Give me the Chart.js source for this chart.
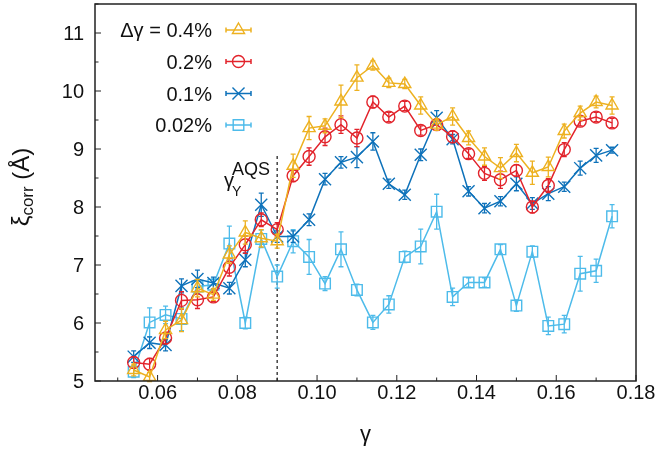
<!DOCTYPE html>
<html>
<head>
<meta charset="utf-8">
<script src="https://cdn.jsdelivr.net/npm/chart.js@4.4.1/dist/chart.umd.min.js"></script>
<style>
  html, body { margin: 0; padding: 0; background: #fff; }
  #wrap { width: 657px; height: 451px; }
</style>
</head>
<body>
<div id="wrap"><canvas id="chart" width="657" height="451"></canvas></div>
<script>
// γ 값 (x축)
const GAMMA = [0.054, 0.058, 0.062, 0.066, 0.070, 0.074, 0.078, 0.082, 0.086, 0.090,
  0.094, 0.098, 0.102, 0.106, 0.110, 0.114, 0.118, 0.122, 0.126, 0.130,
  0.134, 0.138, 0.142, 0.146, 0.150, 0.154, 0.158, 0.162, 0.166, 0.170, 0.174];

// ξ_corr 값 (Å)
const XI_04 = [5.19, 5.07, 5.88, 6.05, 6.60, 6.49, 7.18, 7.56, 7.46, 7.41,
  8.71, 9.36, 9.40, 9.82, 10.23, 10.44, 10.14, 10.12, 9.75, 9.42,
  9.56, 9.19, 8.87, 8.67, 8.93, 8.59, 8.69, 9.31, 9.62, 9.81, 9.75];
const XI_02 = [5.32, 5.29, 5.74, 6.39, 6.40, 6.45, 6.96, 7.35, 7.78, 7.61,
  8.54, 8.87, 9.21, 9.42, 9.19, 9.81, 9.55, 9.74, 9.32, 9.42,
  9.21, 8.92, 8.58, 8.47, 8.63, 8.00, 8.37, 8.99, 9.48, 9.55, 9.45];
const XI_01 = [5.42, 5.66, 5.62, 6.64, 6.76, 6.69, 6.60, 7.09, 8.04, 7.49,
  7.49, 7.78, 8.48, 8.77, 8.86, 9.13, 8.40, 8.21, 8.90, 9.54,
  9.17, 8.27, 7.98, 8.10, 8.40, 8.06, 8.23, 8.35, 8.67, 8.89, 8.98];
const XI_002 = [5.16, 6.01, 6.14, 6.07, 6.63, 6.66, 7.37, 6.00, 7.45, 6.80,
  7.41, 7.14, 6.68, 7.27, 6.57, 6.01, 6.32, 7.14, 7.32, 7.92,
  6.45, 6.70, 6.70, 7.27, 6.30, 7.23, 5.95, 5.98, 6.85, 6.90, 7.84];

// 오차 막대 (±)
const ERR_04 = [0.10, 0.08, 0.15, 0.20, 0.15, 0.10, 0.15, 0.20, 0.15, 0.12,
  0.20, 0.20, 0.12, 0.28, 0.22, 0.08, 0.08, 0.08, 0.15, 0.10,
  0.15, 0.12, 0.15, 0.18, 0.15, 0.20, 0.17, 0.12, 0.12, 0.10, 0.15];
const ERR_02 = [0.10, 0.10, 0.10, 0.15, 0.15, 0.08, 0.15, 0.15, 0.12, 0.12,
  0.10, 0.15, 0.15, 0.15, 0.15, 0.10, 0.08, 0.08, 0.08, 0.10,
  0.10, 0.08, 0.12, 0.15, 0.10, 0.10, 0.12, 0.12, 0.08, 0.08, 0.08];
const ERR_01 = [0.10, 0.10, 0.10, 0.12, 0.15, 0.10, 0.10, 0.12, 0.20, 0.10,
  0.10, 0.10, 0.10, 0.10, 0.18, 0.15, 0.08, 0.08, 0.10, 0.12,
  0.08, 0.08, 0.08, 0.08, 0.12, 0.10, 0.12, 0.08, 0.12, 0.12, 0.05];
const ERR_002 = [0.10, 0.25, 0.15, 0.20, 0.12, 0.10, 0.30, 0.10, 0.15, 0.20,
  0.20, 0.30, 0.12, 0.30, 0.10, 0.12, 0.15, 0.10, 0.30, 0.30,
  0.15, 0.08, 0.08, 0.08, 0.10, 0.10, 0.15, 0.15, 0.30, 0.20, 0.20];

const LEGEND_LABELS = ['Δγ = 0.4%', '0.2%', '0.1%', '0.02%'];

// 축 눈금
const X_TICKS = [0.06, 0.08, 0.10, 0.12, 0.14, 0.16, 0.18];
const X_MINOR = [0.05, 0.07, 0.09, 0.11, 0.13, 0.15, 0.17];
const Y_TICKS = [5, 6, 7, 8, 9, 10, 11];
const Y_MINOR = [5.5, 6.5, 7.5, 8.5, 9.5, 10.5, 11.5];

const GAMMA_AQS = 0.09;
const FONT = '"Liberation Sans", Arial, Helvetica, sans-serif';

const SERIES = [
  { values: XI_04, errs: ERR_04, color: '#EDB120', style: 'triangle', r: 7 },
  { values: XI_02, errs: ERR_02, color: '#E2232B', style: 'circle', r: 6 },
  { values: XI_01, errs: ERR_01, color: '#0E72BA', style: 'crossRot', r: 8.5 },
  { values: XI_002, errs: ERR_002, color: '#4DBBEA', style: 'rect', r: 7.5 },
];

const datasets = SERIES.map((s, i) => ({
  label: LEGEND_LABELS[i],
  data: GAMMA.map((g, k) => ({ x: g, y: s.values[k] })),
  showLine: true,
  borderColor: s.color,
  borderWidth: 1.5,
  pointStyle: s.style,
  pointRadius: s.r,
  pointBorderWidth: 1.4,
  pointBorderColor: s.color,
  pointBackgroundColor: 'rgba(0,0,0,0)',
  errs: s.errs,
}));

// 오차 막대 + 축 + 범례 그리기
const decorPlugin = {
  id: 'decor',
  beforeDatasetDraw(chart, args) {
    const ds = chart.data.datasets[args.index];
    const { ctx, scales: { x, y } } = chart;
    ctx.save();
    ctx.strokeStyle = ds.borderColor;
    ctx.lineWidth = 1.3;
    ds.data.forEach((p, k) => {
      const e = ds.errs[k];
      const px = x.getPixelForValue(p.x);
      const y1 = y.getPixelForValue(p.y - e);
      const y2 = y.getPixelForValue(p.y + e);
      ctx.beginPath();
      ctx.moveTo(px, y1); ctx.lineTo(px, y2);
      ctx.moveTo(px - 2.5, y1); ctx.lineTo(px + 2.5, y1);
      ctx.moveTo(px - 2.5, y2); ctx.lineTo(px + 2.5, y2);
      ctx.stroke();
    });
    ctx.restore();
  },
  beforeDatasetsDraw(chart) {
    const { ctx, scales: { x, y } } = chart;
    // γ_Y^AQS 점선
    const px = x.getPixelForValue(GAMMA_AQS);
    ctx.save();
    ctx.strokeStyle = '#444';
    ctx.lineWidth = 1.5;
    ctx.setLineDash([3, 3]);
    ctx.beginPath();
    ctx.moveTo(px, y.getPixelForValue(5));
    ctx.lineTo(px, y.getPixelForValue(8.88));
    ctx.stroke();
    ctx.restore();
  },
  afterDraw(chart) {
    const { ctx, chartArea: a, scales: { x, y } } = chart;
    ctx.save();
    // 프레임
    ctx.strokeStyle = '#222';
    ctx.lineWidth = 1.5;
    ctx.strokeRect(a.left, a.top, a.right - a.left, a.bottom - a.top);

    // 눈금
    ctx.lineWidth = 1;
    ctx.beginPath();
    X_TICKS.forEach(v => { const p = x.getPixelForValue(v); ctx.moveTo(p, a.bottom); ctx.lineTo(p, a.bottom - 6); });
    X_MINOR.forEach(v => { const p = x.getPixelForValue(v); ctx.moveTo(p, a.bottom); ctx.lineTo(p, a.bottom - 3.5); });
    Y_TICKS.forEach(v => { const p = y.getPixelForValue(v); ctx.moveTo(a.left, p); ctx.lineTo(a.left + 6, p); });
    Y_MINOR.forEach(v => { const p = y.getPixelForValue(v); ctx.moveTo(a.left, p); ctx.lineTo(a.left + 3.5, p); });
    ctx.stroke();

    // 눈금 라벨
    ctx.fillStyle = '#111';
    ctx.font = `20px ${FONT}`;
    ctx.textAlign = 'center';
    ctx.textBaseline = 'alphabetic';
    X_TICKS.forEach(v => ctx.fillText(v.toFixed(2), x.getPixelForValue(v), a.bottom + 18));
    ctx.textAlign = 'right';
    Y_TICKS.forEach(v => ctx.fillText(String(v), 84, y.getPixelForValue(v) + 7.3));

    // x축 제목
    ctx.textAlign = 'center';
    ctx.font = `22px ${FONT}`;
    ctx.fillText('γ', (a.left + a.right) / 2, 441);

    // y축 제목 ξ_corr (Å)
    ctx.save();
    ctx.translate(29, 187);
    ctx.rotate(-Math.PI / 2);
    ctx.textAlign = 'left';
    ctx.font = `24px ${FONT}`;
    const w1 = ctx.measureText('ξ').width;
    ctx.font = `17px ${FONT}`;
    const w2 = ctx.measureText('corr').width;
    ctx.font = `24px ${FONT}`;
    const w3 = ctx.measureText(' (Å)').width;
    const x0 = -(w1 + w2 + w3) / 2;
    ctx.fillText('ξ', x0, 0);
    ctx.font = `17px ${FONT}`;
    ctx.fillText('corr', x0 + w1, 4);
    ctx.font = `24px ${FONT}`;
    ctx.fillText(' (Å)', x0 + w1 + w2, 0);
    ctx.restore();

    // γ_Y^AQS 주석
    ctx.textAlign = 'left';
    ctx.font = `20px ${FONT}`;
    ctx.fillText('γ', 224, 187);
    ctx.font = `14px ${FONT}`;
    ctx.fillText('Y', 232, 196);
    ctx.font = `18px ${FONT}`;
    ctx.fillText('AQS', 232, 175);

    // 범례
    const rowsY = [30, 61.5, 93.5, 125];
    chart.data.datasets.forEach((ds, i) => {
      const ry = rowsY[i];
      ctx.fillStyle = '#111';
      ctx.font = `20px ${FONT}`;
      ctx.textAlign = 'right';
      ctx.fillText(LEGEND_LABELS[i], 212, ry + 7.3);
      ctx.strokeStyle = ds.borderColor;
      ctx.lineWidth = 1.5;
      ctx.beginPath();
      ctx.moveTo(226, ry); ctx.lineTo(251, ry);
      ctx.moveTo(226, ry - 2.5); ctx.lineTo(226, ry + 2.5);
      ctx.moveTo(251, ry - 2.5); ctx.lineTo(251, ry + 2.5);
      ctx.stroke();
      ctx.lineWidth = 1.4;
      ctx.fillStyle = 'rgba(0,0,0,0)';
      ctx.strokeStyle = ds.borderColor;
      Chart.helpers.drawPoint(ctx, { pointStyle: ds.pointStyle, radius: ds.pointRadius, borderWidth: 1.4 }, 238.5, ry);
    });
    ctx.restore();
  }
};

new Chart(document.getElementById('chart'), {
  type: 'scatter',
  data: { datasets },
  options: {
    responsive: false,
    animation: false,
    devicePixelRatio: 1,
    layout: { autoPadding: false, padding: { left: 95, top: 4, right: 21, bottom: 70 } },
    plugins: { legend: { display: false }, tooltip: { enabled: false } },
    scales: {
      x: { type: 'linear', min: 0.0443, max: 0.18, display: false },
      y: { type: 'linear', min: 5, max: 11.5, display: false },
    },
  },
  plugins: [decorPlugin],
});
</script>
</body>
</html>
